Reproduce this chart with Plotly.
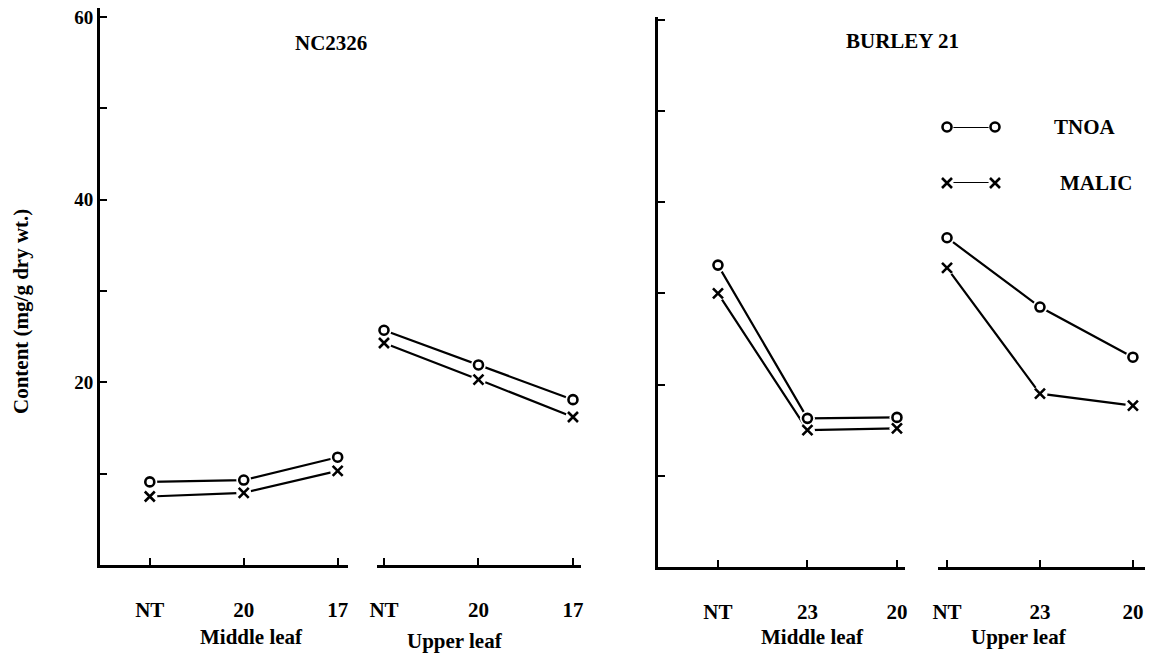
import plotly.graph_objects as go

# ---------------- data ----------------
series_names = ["TNOA", "MALIC"]
group_labels = ["Middle leaf", "Upper leaf"]
panel_titles = ["NC2326", "BURLEY 21"]

nc_middle_cats = ["NT", "20", "17"]
nc_upper_cats = ["NT", "20", "17"]
bu_middle_cats = ["NT", "23", "20"]
bu_upper_cats = ["NT", "23", "20"]

nc_middle_tnoa = [9.1, 9.3, 11.8]
nc_middle_malic = [7.5, 7.9, 10.3]
nc_upper_tnoa = [25.7, 21.9, 18.1]
nc_upper_malic = [24.3, 20.3, 16.2]

bu_middle_tnoa = [33.1, 16.3, 16.4]
bu_middle_malic = [30.0, 15.0, 15.2]
bu_upper_tnoa = [36.1, 28.5, 23.0]
bu_upper_malic = [32.8, 19.0, 17.7]

y_tickvals = [10, 20, 30, 40, 50, 60]
y_ticktext = ["", "20", "", "40", "", "60"]
y_title = "Content (mg/g dry wt.)"

# ---------------- layout helpers ----------------
# the page body has an 8px margin: work in window pixels and convert
OFF = 8
W, H = 1162 - OFF, 656 - OFF
FONT = "Liberation Serif"


def fx(px):
    return (px - OFF) / W


def fy(py):
    return 1 - (py - OFF) / H


fig = go.Figure()

SYM = {"TNOA": "circle-open", "MALIC": "x-thin-open"}
SYMSIZE = {"TNOA": 9, "MALIC": 10}


def add_group(cats, tnoa, malic, xa, ya):
    vals = {"TNOA": tnoa, "MALIC": malic}
    for name in series_names:
        fig.add_trace(go.Scatter(x=cats, y=vals[name], mode="lines", xaxis=xa, yaxis=ya,
                                 line=dict(color="black", width=2.2), showlegend=False,
                                 hoverinfo="skip", cliponaxis=False))
    for name in series_names:
        fig.add_trace(go.Scatter(x=cats, y=vals[name], mode="markers", xaxis=xa, yaxis=ya,
                                 marker=dict(color="white", size=15, symbol="circle"),
                                 showlegend=False, hoverinfo="skip", cliponaxis=False))
    for name in series_names:
        fig.add_trace(go.Scatter(x=cats, y=vals[name], mode="markers", xaxis=xa, yaxis=ya,
                                 name=name,
                                 marker=dict(color="black", size=SYMSIZE[name], symbol=SYM[name],
                                             line=dict(color="black", width=2.6)),
                                 showlegend=False, cliponaxis=False))


add_group(nc_middle_cats, nc_middle_tnoa, nc_middle_malic, "x", "y")
add_group(nc_upper_cats, nc_upper_tnoa, nc_upper_malic, "x2", "y")
add_group(bu_middle_cats, bu_middle_tnoa, bu_middle_malic, "x3", "y2")
add_group(bu_upper_cats, bu_upper_tnoa, bu_upper_malic, "x4", "y2")

# custom legend samples (hidden axis x5/y5)
legend_x = [0, 1]
for i, name in enumerate(series_names):
    yy = [1 - i, 1 - i]
    fig.add_trace(go.Scatter(x=legend_x, y=yy, mode="lines", xaxis="x5", yaxis="y5",
                             line=dict(color="black", width=2.2), showlegend=False,
                             hoverinfo="skip", cliponaxis=False))
    fig.add_trace(go.Scatter(x=legend_x, y=yy, mode="markers", xaxis="x5", yaxis="y5",
                             marker=dict(color="white", size=13), showlegend=False,
                             hoverinfo="skip", cliponaxis=False))
    fig.add_trace(go.Scatter(x=legend_x, y=yy, mode="markers", xaxis="x5", yaxis="y5",
                             marker=dict(color="black", size=SYMSIZE[name], symbol=SYM[name],
                                         line=dict(color="black", width=2.6)),
                             showlegend=False, hoverinfo="skip", cliponaxis=False))

xcommon = dict(type="category", showline=True, linecolor="black", linewidth=2.6,
               ticks="inside", ticklen=7, tickwidth=2, tickcolor="black",
               showgrid=False, zeroline=False, fixedrange=True, automargin=False,
               tickfont=dict(family=FONT, size=21, color="black", weight="bold"),
               ticklabelstandoff=24, ticklabeloverflow="allow")

fig.update_layout(
    width=W, height=H,
    margin=dict(l=0, r=0, t=0, b=0, autoexpand=False),
    paper_bgcolor="white", plot_bgcolor="white",
    showlegend=False,
    xaxis=dict(domain=[fx(100), fx(348)], anchor="y", range=[-0.53, 2.11], **xcommon),
    xaxis2=dict(domain=[fx(377), fx(581)], anchor="y", range=[-0.074, 2.085], **xcommon),
    xaxis3=dict(domain=[fx(658), fx(905)], anchor="y2", range=[-0.67, 2.09], **xcommon),
    xaxis4=dict(domain=[fx(938), fx(1145)], anchor="y2", range=[-0.097, 2.13], **xcommon),
    yaxis=dict(domain=[fy(565), fy(8)], anchor="x", range=[0, 60.98], automargin=False,
               showline=True, linecolor="black", linewidth=2.8,
               ticks="inside", ticklen=7, tickwidth=2, tickcolor="black",
               tickvals=y_tickvals, ticktext=y_ticktext, showgrid=False, zeroline=False,
               tickfont=dict(family=FONT, size=19, color="black", weight="bold"),
               ticklabelstandoff=0, ticklabeloverflow="allow"),
    yaxis2=dict(domain=[fy(567), fy(17)], anchor="x3", range=[0, 60.3], automargin=False,
                showline=True, linecolor="black", linewidth=2.8,
                ticks="inside", ticklen=7, tickwidth=2, tickcolor="black",
                tickvals=y_tickvals, showticklabels=False, showgrid=False, zeroline=False),
    xaxis5=dict(domain=[fx(947), fx(995)], anchor="y5", range=[0, 1], visible=False),
    yaxis5=dict(domain=[fy(183), fy(127)], anchor="x5", range=[0, 1], visible=False),
)

anns = []
tfont = dict(family=FONT, size=21, color="black", weight="bold")
# panel titles
anns.append(dict(text=panel_titles[0], x=fx(331), y=fy(43), xref="paper", yref="paper",
                 showarrow=False, font=tfont, xanchor="center", yanchor="middle"))
anns.append(dict(text=panel_titles[1], x=fx(902), y=fy(41), xref="paper", yref="paper",
                 showarrow=False, font=tfont, xanchor="center", yanchor="middle"))
# group labels
for cx, cy, lab in [(251, 637, group_labels[0]), (455, 641, group_labels[1]),
                    (812, 637, group_labels[0]), (1019, 637, group_labels[1])]:
    anns.append(dict(text=lab, x=fx(cx), y=fy(cy), xref="paper", yref="paper",
                     showarrow=False, font=tfont, xanchor="center", yanchor="middle"))
# legend labels
anns.append(dict(text=series_names[0], x=fx(1052), y=fy(127), xref="paper", yref="paper",
                 showarrow=False, font=tfont, xanchor="left", yanchor="middle"))
anns.append(dict(text=series_names[1], x=fx(1058), y=fy(183), xref="paper", yref="paper",
                 showarrow=False, font=tfont, xanchor="left", yanchor="middle"))
# y title
anns.append(dict(text=y_title, x=fx(21), y=fy(312), xref="paper", yref="paper",
                 showarrow=False, font=dict(family=FONT, size=21, color="black", weight="bold"),
                 textangle=-90, xanchor="center", yanchor="middle"))
fig.update_layout(annotations=anns)

fig.write_html("out.html")
